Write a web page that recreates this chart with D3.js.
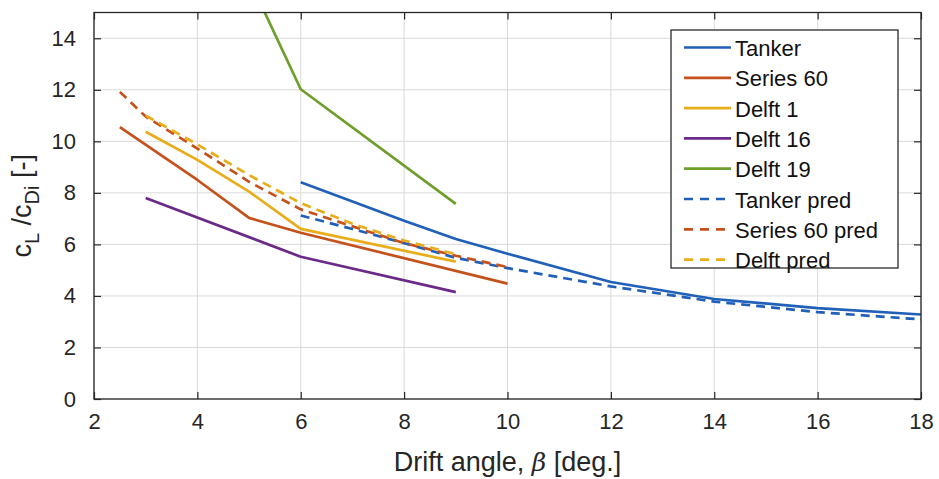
<!DOCTYPE html>
<html>
<head>
<meta charset="utf-8">
<script src="https://cdn.jsdelivr.net/npm/d3@7"></script>
<style>
  html, body { margin: 0; padding: 0; background: #fff; }
  svg { display: block; font-family: "Liberation Sans", Arial, Helvetica, sans-serif; }
</style>
</head>
<body>
<svg id="chart" width="939" height="479"></svg>
<script>
// ---- data ----
const xTicks = [2, 4, 6, 8, 10, 12, 14, 16, 18];
const yTicks = [0, 2, 4, 6, 8, 10, 12, 14];

const tankerX = [6, 8, 9, 10, 12, 14, 16, 18];
const tankerY = [8.41, 6.92, 6.21, 5.64, 4.54, 3.88, 3.53, 3.28];

const series60X = [2.5, 4, 5, 6, 10];
const series60Y = [10.55, 8.5, 7.03, 6.45, 4.48];

const delft1X = [3, 4, 5, 6, 9];
const delft1Y = [10.37, 9.28, 8.05, 6.6, 5.33];

const delft16X = [3, 6, 9];
const delft16Y = [7.8, 5.52, 4.15];

const delft19X = [5, 6, 9];
const delft19Y = [16.3, 12.02, 7.57];

const tankerPredX = [6, 7, 8, 9, 10, 12, 14, 16, 18];
const tankerPredY = [7.12, 6.6, 6.05, 5.48, 5.08, 4.37, 3.78, 3.37, 3.09];

const series60PredX = [2.5, 3, 4, 5, 6, 7, 8, 9, 10];
const series60PredY = [11.92, 10.96, 9.72, 8.43, 7.36, 6.7, 6.05, 5.56, 5.12];

const delftPredX = [3, 4, 5, 6, 7, 8, 9];
const delftPredY = [11.0, 9.88, 8.69, 7.6, 6.8, 6.15, 5.62];

const seriesNames = ["Tanker", "Series 60", "Delft 1", "Delft 16", "Delft 19",
                     "Tanker pred", "Series 60 pred", "Delft pred"];
const seriesColors = ["#2160b8", "#c4521c", "#e8ad1a", "#6b2a88", "#6f9e2c",
                      "#2160b8", "#c4521c", "#e8ad1a"];
const seriesDashed = [false, false, false, false, false, true, true, true];
const seriesX = [tankerX, series60X, delft1X, delft16X, delft19X, tankerPredX, series60PredX, delftPredX];
const seriesY = [tankerY, series60Y, delft1Y, delft16Y, delft19Y, tankerPredY, series60PredY, delftPredY];

// ---- layout ----
const svg = d3.select("#chart");
const L = 94, R = 921, T = 12.5, B = 399;
const x = d3.scaleLinear().domain([2, 18]).range([L, R]);
const y = d3.scaleLinear().domain([0, 15]).range([B, T]);
const axisColor = "#262626";

svg.append("rect").attr("x", 0).attr("y", 0).attr("width", 939).attr("height", 479).attr("fill", "#fff");

// grid
const grid = svg.append("g");
grid.selectAll("line.gx").data(xTicks).join("line")
  .attr("x1", d => x(d)).attr("x2", d => x(d)).attr("y1", T).attr("y2", B)
  .attr("stroke", "#dadada").attr("stroke-width", 1);
grid.selectAll("line.gy").data(yTicks).join("line")
  .attr("x1", L).attr("x2", R).attr("y1", d => y(d)).attr("y2", d => y(d))
  .attr("stroke", "#dadada").attr("stroke-width", 1);

// clip
svg.append("clipPath").attr("id", "clip").append("rect")
  .attr("x", L).attr("y", T).attr("width", R - L).attr("height", B - T);

const line = d3.line().x(d => x(d[0])).y(d => y(d[1]));
const plot = svg.append("g").attr("clip-path", "url(#clip)");
seriesNames.forEach((name, i) => {
  const pts = seriesX[i].map((v, j) => [v, seriesY[i][j]]);
  plot.append("path").datum(pts)
    .attr("d", line)
    .attr("fill", "none")
    .attr("stroke", seriesColors[i])
    .attr("stroke-width", 2.7)
    .attr("stroke-dasharray", seriesDashed[i] ? "9,6" : null)
    .attr("stroke-linejoin", "round");
});

// axes (inside ticks on all four sides)
const tickLen = 7;
const fontTick = 22;
const gB = svg.append("g").attr("transform", `translate(0,${B})`)
  .call(d3.axisBottom(x).tickValues(xTicks).tickSizeInner(-tickLen).tickSizeOuter(0).tickPadding(14));
const gT = svg.append("g").attr("transform", `translate(0,${T})`)
  .call(d3.axisTop(x).tickValues(xTicks).tickSizeInner(-tickLen).tickSizeOuter(0).tickFormat(""));
const gL = svg.append("g").attr("transform", `translate(${L},0)`)
  .call(d3.axisLeft(y).tickValues(yTicks).tickSizeInner(-tickLen).tickSizeOuter(0).tickPadding(18));
const gR = svg.append("g").attr("transform", `translate(${R},0)`)
  .call(d3.axisRight(y).tickValues(yTicks).tickSizeInner(-tickLen).tickSizeOuter(0).tickFormat(""));
[gB, gT, gL, gR].forEach(g => {
  g.select(".domain").remove();
  g.selectAll(".tick line").attr("stroke", axisColor).attr("stroke-width", 1.2);
  g.selectAll(".tick text").attr("fill", axisColor).attr("font-size", fontTick)
    .attr("font-family", '"Liberation Sans", Arial, sans-serif');
});
// box
svg.append("rect").attr("x", L).attr("y", T).attr("width", R - L).attr("height", B - T)
  .attr("fill", "none").attr("stroke", axisColor).attr("stroke-width", 1.3);

// axis labels
const xl = svg.append("text").attr("x", (L + R) / 2).attr("y", 471)
  .attr("text-anchor", "middle").attr("font-size", 27).attr("fill", axisColor);
xl.append("tspan").text("Drift angle, ");
xl.append("tspan").attr("font-style", "italic").attr("font-family", '"DejaVu Serif", serif').attr("font-size", 25).text("β");
xl.append("tspan").text(" [deg.]");

const yl = svg.append("text")
  .attr("transform", `translate(31,${(T + B) / 2}) rotate(-90)`)
  .attr("text-anchor", "middle").attr("font-size", 27).attr("fill", axisColor);
yl.append("tspan").text("c");
yl.append("tspan").attr("font-size", 20).attr("dy", 8).text("L");
yl.append("tspan").attr("dy", -8).text(" /c");
yl.append("tspan").attr("font-size", 20).attr("dy", 8).text("Di");
yl.append("tspan").attr("dy", -8).text(" [-]");

// legend
const lx = 671, ly = 30, lw = 227, lh = 238;
const leg = svg.append("g");
leg.append("rect").attr("x", lx).attr("y", ly).attr("width", lw).attr("height", lh)
  .attr("fill", "#fff").attr("stroke", "#1a1a1a").attr("stroke-width", 1.2);
seriesNames.forEach((name, i) => {
  const cy = 47.5 + i * 30.3;
  leg.append("line").attr("x1", 684).attr("x2", 731).attr("y1", cy).attr("y2", cy)
    .attr("stroke", seriesColors[i]).attr("stroke-width", 2.7)
    .attr("stroke-dasharray", seriesDashed[i] ? "9,7" : null);
  leg.append("text").attr("x", 735).attr("y", cy + 8.5)
    .attr("font-size", 22).attr("fill", "#111").text(name);
});
</script>
</body>
</html>
